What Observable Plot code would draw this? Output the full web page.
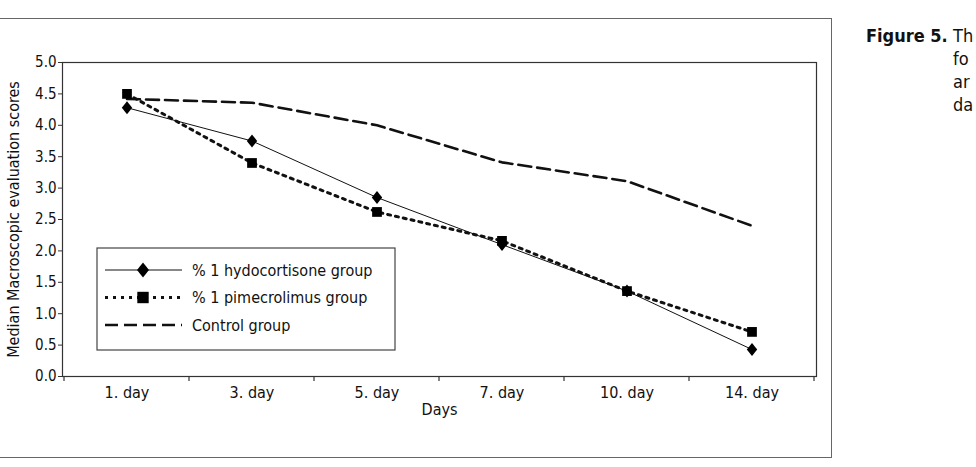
<!DOCTYPE html>
<html>
<head>
<meta charset="utf-8">
<script src="https://cdn.jsdelivr.net/npm/d3@7"></script>
<script src="https://cdn.jsdelivr.net/npm/@observablehq/plot@0.6"></script>
<style>
  html, body { margin: 0; padding: 0; background: #fff; width: 976px; height: 467px; overflow: hidden; }
  body { position: relative; font-family: "Liberation Sans Narrow", "DejaVu Sans Condensed", "DejaVu Sans", sans-serif; font-stretch: condensed; }
  svg text { font-stretch: condensed; }
  #box { position: absolute; left: -2px; top: 18px; width: 834px; height: 440px; border: 1.5px solid #666; box-sizing: border-box; }
  #chart { position: absolute; left: 0; top: 0; }
  #caption { position: absolute; left: 866px; top: 24px; font-size: 18px; line-height: 23px; color: #111; white-space: nowrap; }
  #caption b { font-weight: bold; }
  #caption .rest { position: absolute; left: 87px; top: 0; font-size: 18px; }
</style>
</head>
<body>
<div id="box"></div>
<div id="chart"></div>
<div id="caption"><b>Figure 5.</b><div class="rest">Th<br>fo<br>ar<br>da</div></div>
<script>
const days = ["1. day", "3. day", "5. day", "7. day", "10. day", "14. day"];
const seriesNames = ["% 1 hydocortisone group", "% 1 pimecrolimus group", "Control group"];
const hydrocortisone = [4.28, 3.75, 2.85, 2.1, 1.36, 0.43];
const pimecrolimus = [4.5, 3.4, 2.62, 2.16, 1.36, 0.71];
const control = [4.42, 4.36, 4.0, 3.41, 3.11, 2.4];
const yTicks = [0, 0.5, 1, 1.5, 2, 2.5, 3, 3.5, 4, 4.5, 5];
const yTitle = "Median Macroscopic evaluation scores";
const xTitle = "Days";

const rows = [];
days.forEach((d, i) => {
  rows.push({day: d, value: hydrocortisone[i], series: seriesNames[0]});
  rows.push({day: d, value: pimecrolimus[i], series: seriesNames[1]});
  rows.push({day: d, value: control[i], series: seriesNames[2]});
});
const bySeries = name => rows.filter(r => r.series === name);

const W = 840, H = 467;
const font = '"Liberation Sans Narrow", "DejaVu Sans Condensed", "DejaVu Sans", sans-serif';

// diamond a bit taller than wide
const makeDiamond = (hw, hh) => ({
  draw(ctx) {
    ctx.moveTo(0, -hh); ctx.lineTo(hw, 0); ctx.lineTo(0, hh); ctx.lineTo(-hw, 0); ctx.closePath();
  }
});
const diamond = makeDiamond(5.2, 6.5);
const legendDiamond = makeDiamond(6, 7.5);

const chart = Plot.plot({
  width: W,
  height: H,
  marginLeft: 62,
  marginRight: 24,
  marginTop: 62,
  marginBottom: 91,
  style: {fontFamily: font, fontSize: "16px", color: "#111", background: "transparent", overflow: "visible"},
  x: {type: "band", domain: days, padding: 0, label: null},
  y: {domain: [0, 5], label: null},
  marks: [
    Plot.frame({stroke: "#333", strokeWidth: 1.2}),
    Plot.axisY({ticks: yTicks, tickFormat: d3.format(".1f"), tickSize: 4, tickPadding: 2, fontSize: 15, stroke: "#333"}),
    Plot.axisX({tickSize: 0, tickPadding: 10, fontSize: 16}),
    Plot.text([yTitle], {frameAnchor: "left", dx: -49, rotate: -90, textAnchor: "middle", fontSize: 16}),
    Plot.text([xTitle], {frameAnchor: "bottom", dy: 38, fontSize: 16}),
    Plot.line(bySeries(seriesNames[2]), {x: "day", y: "value", stroke: "#111", strokeWidth: 2.6, strokeDasharray: "13,6"}),
    Plot.line(bySeries(seriesNames[1]), {x: "day", y: "value", stroke: "#111", strokeWidth: 3, strokeDasharray: "3,5"}),
    Plot.line(bySeries(seriesNames[0]), {x: "day", y: "value", stroke: "#111", strokeWidth: 1}),
    Plot.dot(bySeries(seriesNames[1]), {x: "day", y: "value", symbol: "square", fill: "#000", r: 5.5}),
    Plot.dot(bySeries(seriesNames[0]), {x: "day", y: "value", symbol: diamond, fill: "#000", r: 6})
  ]
});
document.getElementById("chart").appendChild(chart);

// x-axis boundary ticks (between categories) using the plot's scales
const xs = chart.scale("x");
const ys = chart.scale("y");
const svg = d3.select(chart);
const y0 = ys.apply(0);
const bounds = days.map(d => xs.apply(d)).concat([xs.apply(days[5]) + xs.bandwidth]);
svg.append("g").selectAll("line").data(bounds).join("line")
  .attr("x1", d => d).attr("x2", d => d).attr("y1", y0).attr("y2", y0 + 5)
  .attr("stroke", "#333").attr("stroke-width", 1.2);

// legend box
const lg = svg.append("g").attr("text-anchor", "start");
const lx = 97, ly = 248, lw = 298, lh = 102;
lg.append("rect").attr("x", lx).attr("y", ly).attr("width", lw).attr("height", lh)
  .attr("fill", "#fff").attr("stroke", "#444").attr("stroke-width", 1.2);
const styles = [
  {dash: null, w: 1, sym: legendDiamond},
  {dash: "3,5", w: 3, sym: d3.symbolSquare, size: 130},
  {dash: "13,6", w: 2.6, sym: null}
];
seriesNames.forEach((name, i) => {
  const yy = 270 + i * 27.5;
  const s = styles[i];
  const ln = lg.append("line").attr("x1", 105).attr("x2", 182).attr("y1", yy).attr("y2", yy)
    .attr("stroke", "#111").attr("stroke-width", s.w);
  if (s.dash) ln.attr("stroke-dasharray", s.dash);
  if (s.sym) lg.append("path").attr("d", d3.symbol(s.sym, s.size || 100)()).attr("transform", `translate(143,${yy})`).attr("fill", "#000");
  lg.append("text").attr("x", 192).attr("y", yy).attr("dy", "0.35em")
    .attr("font-size", 16).attr("font-family", font).attr("fill", "#111").text(name);
});
</script>
</body>
</html>
